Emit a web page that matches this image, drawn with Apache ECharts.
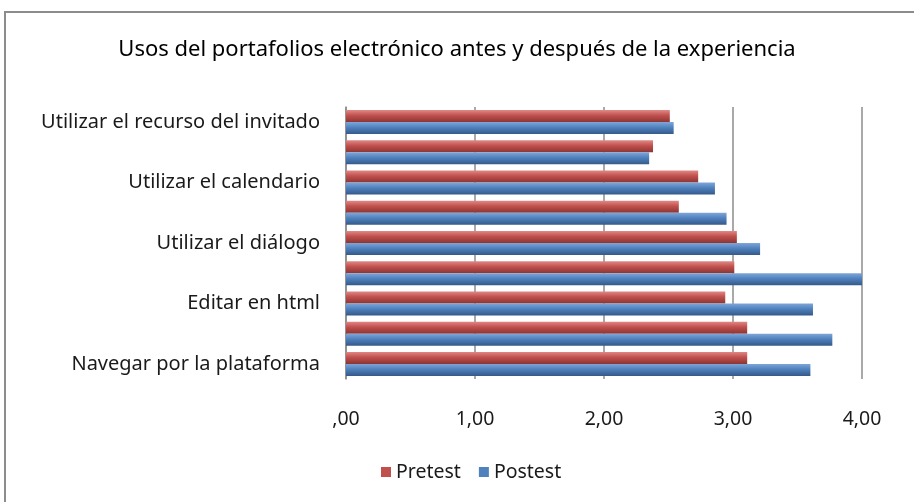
<!DOCTYPE html>
<html><head><meta charset="utf-8">
<script src="https://cdn.jsdelivr.net/npm/echarts@6/dist/echarts.min.js"></script>
<style>html,body{margin:0;padding:0;background:#fff}#c{width:914px;height:502px}</style>
</head><body><div id="c"></div>
<script>
const titleText = "Usos del portafolios electrónico antes y después de la experiencia";
// bottom to top
const categories = ["Navegar por la plataforma", "", "Editar en html", "", "Utilizar el diálogo", "", "Utilizar el calendario", "", "Utilizar el recurso del invitado"];
const pretest = [3.11, 3.11, 2.94, 3.01, 3.03, 2.58, 2.73, 2.38, 2.51];
const postest = [3.60, 3.77, 3.62, 4.00, 3.21, 2.95, 2.86, 2.35, 2.54];
const xTickLabels = [",00", "1,00", "2,00", "3,00", "4,00"];
const seriesNames = ["Pretest", "Postest"];

const FONT = "Noto Sans";
function grad(top, mid, bot) {
  return new echarts.graphic.LinearGradient(0, 0, 0, 1, [
    {offset: 0, color: top}, {offset: 0.45, color: mid}, {offset: 1, color: bot}
  ]);
}
const chart = echarts.init(document.getElementById('c'));
chart.setOption({
  animation: false,
  title: {
    text: titleText, left: 'center', top: 34,
    textStyle: {fontFamily: FONT, fontSize: 22, fontWeight: 'normal', color: '#000'}
  },
  graphic: [{
    type: 'rect', shape: {x: 5, y: 12, width: 920, height: 500},
    style: {fill: 'none', stroke: '#8c8c8c', lineWidth: 2}, silent: true
  }],
  legend: {
    data: [
      {name: seriesNames[0], itemStyle: {color: '#c0504d'}},
      {name: seriesNames[1], itemStyle: {color: '#4f81bd'}}
    ],
    bottom: 15, left: 376, itemWidth: 10, itemHeight: 10, itemGap: 18,
    icon: 'rect',
    textStyle: {fontFamily: FONT, fontSize: 19.5, color: '#1a1a1a'}
  },
  grid: {left: 346, right: 52, top: 107, bottom: 123},
  xAxis: {
    type: 'value', min: 0, max: 4, interval: 1,
    axisLine: {show: false}, axisTick: {show: false},
    splitLine: {show: true, lineStyle: {color: '#8c8c8c', width: 1.5}},
    axisLabel: {
      fontFamily: FONT, fontSize: 19.5, color: '#1a1a1a', margin: 30,
      formatter: v => xTickLabels[Math.round(v)]
    }
  },
  yAxis: {
    type: 'category', data: categories,
    axisLine: {show: true, lineStyle: {color: '#8c8c8c', width: 1.5}},
    axisTick: {show: false},
    axisLabel: {interval: 0, fontFamily: FONT, fontSize: 20, color: '#1a1a1a', margin: 26, padding: [8, 0, 0, 0]}
  },
  series: [
    {name: seriesNames[0], type: 'bar', data: pretest, barWidth: 12, barGap: '0%',
     itemStyle: {color: grad('#e08885', '#c0504d', '#8c3533')}},
    {name: seriesNames[1], type: 'bar', data: postest, barWidth: 12, barGap: '0%',
     itemStyle: {color: grad('#7fa6d8', '#4f81bd', '#35598a')}}
  ]
});
</script></body></html>
